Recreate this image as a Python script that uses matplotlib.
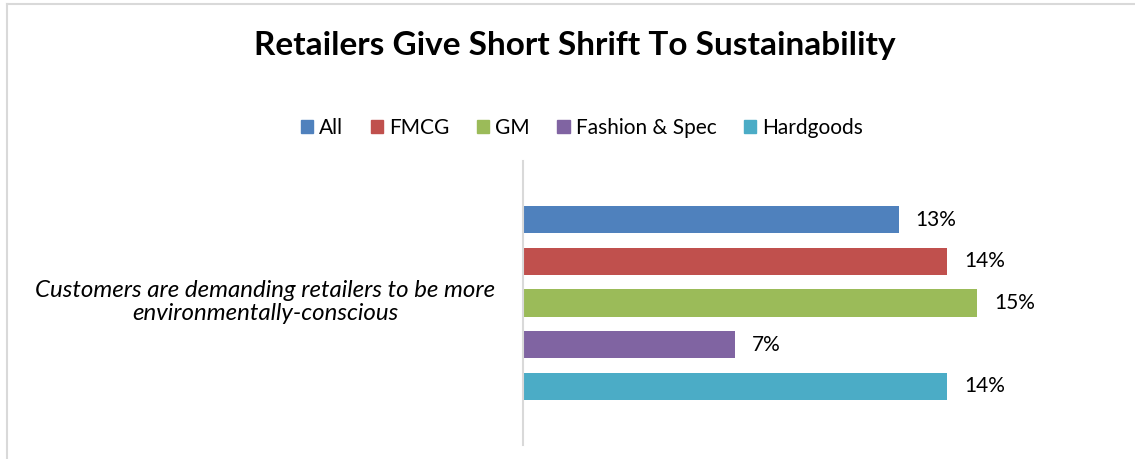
import matplotlib.pyplot as plt
from matplotlib.patches import Rectangle
from matplotlib.lines import Line2D

plt.rcParams['font.family'] = ['Lato', 'DejaVu Sans']

# data
segments = ['All', 'FMCG', 'GM', 'Fashion & Spec', 'Hardgoods']
shares = [0.124, 0.14, 0.15, 0.07, 0.14]
share_labels = ['13%', '14%', '15%', '7%', '14%']
colors = ['#4f81bd', '#c0504d', '#9bbb59', '#8064a2', '#4bacc6']
question = 'Customers are demanding retailers to be more\nenvironmentally-conscious'

fig = plt.figure(figsize=(11.35, 4.59), dpi=100)
ax = fig.add_axes([0.4608, 0.0305, 0.52, 0.6187])

ypos = list(range(len(segments)))
ax.barh(ypos, shares, height=0.65, color=colors)
for y, v, lab in zip(ypos, shares, share_labels):
    ax.text(v + 0.0055, y, lab, va='center', ha='left', fontsize=15, color='#000000')

ax.set_xlim(0, 0.1948)
ax.set_ylim(5.41, -1.41)
ax.set_xticks([])
ax.set_yticks([])
for s in ['top', 'right', 'bottom']:
    ax.spines[s].set_visible(False)
ax.spines['left'].set_color('#d9d9d9')
ax.spines['left'].set_linewidth(1.5)

# category label
fig.text(265 / 1135, 1 - 302 / 459, question, ha='center', va='center',
         fontsize=17.3, style='italic', linespacing=1.13)

fig.suptitle('Retailers Give Short Shrift To Sustainability', x=575 / 1135,
             y=1 - 45 / 459, va='center', fontsize=24, fontweight='bold')

handles = [Rectangle((0, 0), 1, 1, color=c) for c in colors]
fig.legend(handles, segments, loc='center', bbox_to_anchor=(582 / 1135, 1 - 128 / 459),
           ncol=5, frameon=False, fontsize=15, handlelength=0.6, handleheight=0.6,
           handletextpad=0.3, columnspacing=1.3)

# chart frame (top and left edges visible in the crop)
fig.add_artist(Line2D([7 / 1135, 7 / 1135], [0, 1 - 4 / 459], color='#d9d9d9', lw=1.5))
fig.add_artist(Line2D([7 / 1135, 1], [1 - 4 / 459, 1 - 4 / 459], color='#d9d9d9', lw=1.5))

fig.savefig('out.png', dpi=100)
